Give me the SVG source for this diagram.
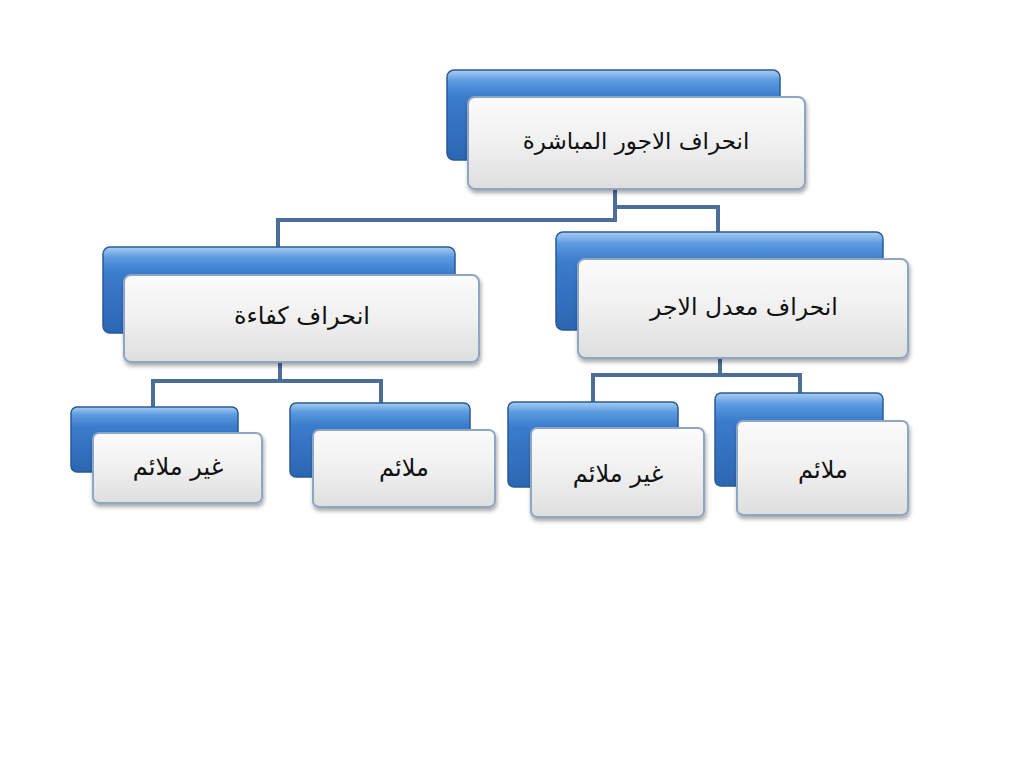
<svg xmlns="http://www.w3.org/2000/svg" width="1024" height="768" viewBox="0 0 1024 768">
<defs>
<linearGradient id="gBlue" x1="0" y1="0" x2="0" y2="1">
<stop offset="0" stop-color="#a9cdf0"/>
<stop offset="0.12" stop-color="#5b9be0"/>
<stop offset="0.3" stop-color="#3b7ccc"/>
<stop offset="1" stop-color="#2c66b2"/>
</linearGradient>
<linearGradient id="gWhite" x1="0" y1="0" x2="0" y2="1">
<stop offset="0" stop-color="#fbfbfb"/>
<stop offset="0.5" stop-color="#f0f0f0"/>
<stop offset="1" stop-color="#dedede"/>
</linearGradient>
<filter id="sh" x="-10%" y="-10%" width="125%" height="135%">
<feGaussianBlur in="SourceAlpha" stdDeviation="2"/>
<feOffset dx="1" dy="3"/>
<feComponentTransfer><feFuncA type="linear" slope="0.35"/></feComponentTransfer>
<feMerge><feMergeNode/><feMergeNode in="SourceGraphic"/></feMerge>
</filter>
</defs>
<style>
.b{fill:url(#gBlue);stroke:#2a5a95;stroke-width:1.5}
.w{fill:url(#gWhite);stroke:#8ea6c6;stroke-width:2;filter:url(#sh)}
.t{font-family:"DejaVu Sans",sans-serif;fill:#111;text-anchor:middle;dominant-baseline:central}
.c{fill:none;stroke:#4a6e98;stroke-width:4}
</style>
<rect width="1024" height="768" fill="#ffffff"/>
<g id="connectors">
<path class="c" d="M615 189 V220 H278 V248"/>
<path class="c" d="M615 207 H718 V233"/>
<path class="c" d="M280 362 V381 H153 V407"/>
<path class="c" d="M280 381 H381 V403"/>
<path class="c" d="M720 358 V375 H593 V402"/>
<path class="c" d="M720 375 H800 V393"/>
</g>
<g id="node-root">
<rect class="b" x="447" y="70" width="333" height="90" rx="7"/>
<rect class="w" x="468" y="97" width="337" height="92" rx="7"/>
<text class="t" x="636" y="141" font-size="23">انحراف الاجور المباشرة</text>
</g>
<g id="node-efficiency">
<rect class="b" x="103" y="247" width="352" height="86" rx="7"/>
<rect class="w" x="124" y="275" width="355" height="87" rx="7"/>
<text class="t" x="302" y="316" font-size="24">انحراف كفاءة</text>
</g>
<g id="node-rate">
<rect class="b" x="556" y="232" width="327" height="98" rx="7"/>
<rect class="w" x="578" y="259" width="330" height="99" rx="7"/>
<text class="t" x="744" y="307" font-size="23.5">انحراف معدل الاجر</text>
</g>
<g id="node-eff-unfav">
<rect class="b" x="71" y="407" width="167" height="65" rx="6"/>
<rect class="w" x="93" y="433" width="169" height="70" rx="6"/>
<text class="t" x="178" y="467" font-size="24">غير ملائم</text>
</g>
<g id="node-eff-fav">
<rect class="b" x="290" y="403" width="180" height="74" rx="6"/>
<rect class="w" x="313" y="430" width="182" height="77" rx="6"/>
<text class="t" x="404" y="468" font-size="24">ملائم</text>
</g>
<g id="node-rate-unfav">
<rect class="b" x="508" y="402" width="170" height="85" rx="6"/>
<rect class="w" x="531" y="428" width="173" height="89" rx="6"/>
<text class="t" x="618" y="474" font-size="24">غير ملائم</text>
</g>
<g id="node-rate-fav">
<rect class="b" x="715" y="393" width="168" height="93" rx="6"/>
<rect class="w" x="737" y="421" width="171" height="94" rx="6"/>
<text class="t" x="823" y="470" font-size="24">ملائم</text>
</g>
</svg>
